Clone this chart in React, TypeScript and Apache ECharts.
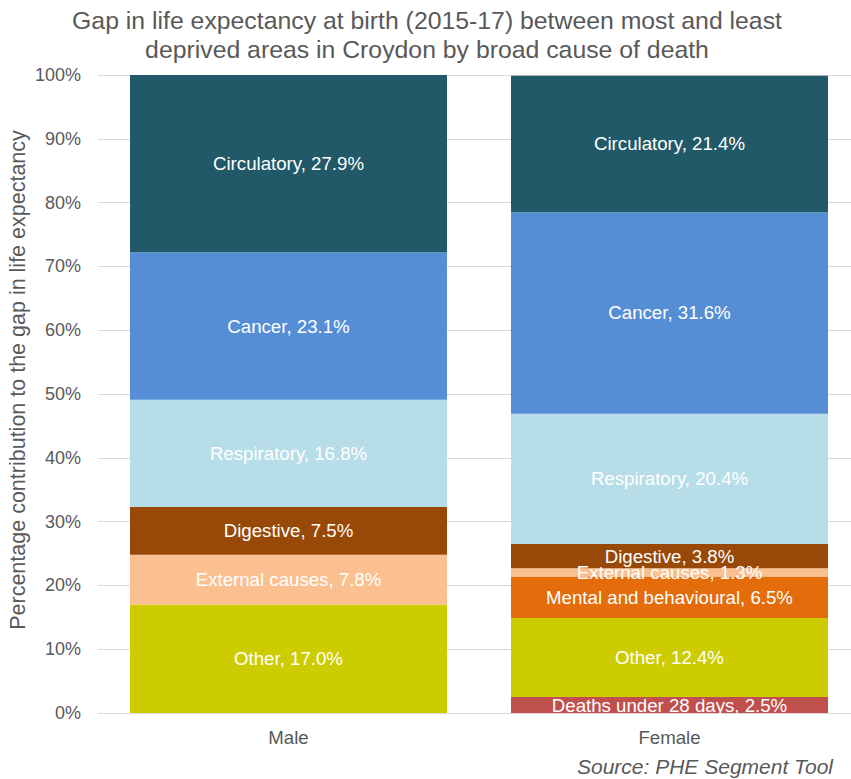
import React, { useEffect, useRef } from "react";
import * as echarts from "echarts";

const categories = ["Male", "Female"];
const seriesNames = [
  "Deaths under 28 days",
  "Other",
  "Mental and behavioural",
  "External causes",
  "Digestive",
  "Respiratory",
  "Cancer",
  "Circulatory",
];
const deathsUnder28 = [null, 2.5];
const other = [17.0, 12.4];
const mental = [null, 6.5];
const external = [7.8, 1.3];
const digestive = [7.5, 3.8];
const respiratory = [16.8, 20.4];
const cancer = [23.1, 31.6];
const circulatory = [27.9, 21.4];
const seriesValues = [deathsUnder28, other, mental, external, digestive, respiratory, cancer, circulatory];
const colors = ["#c0504d", "#cccc00", "#e46c0a", "#fac090", "#984807", "#b7dde8", "#558ed5", "#215968"];

const FONT = "Liberation Sans, Arial, sans-serif";

export default function App() {
  const ref = useRef<HTMLDivElement>(null);
  useEffect(() => {
    const chart = echarts.init(ref.current!, null, { renderer: "svg" });
    chart.setOption({
      animation: false,
      textStyle: { fontFamily: FONT },
      graphic: [
        {
          type: "text",
          x: 427,
          y: 6,
          style: {
            text: "Gap in life expectancy at birth (2015-17) between most and least\ndeprived areas in Croydon by broad cause of death",
            font: "24.8px Liberation Sans, Arial, sans-serif",
            fill: "#595959",
            textAlign: "center",
            lineHeight: 29,
          },
        },
        {
          type: "text",
          x: 18,
          y: 380,
          rotation: Math.PI / 2,
          style: {
            text: "Percentage contribution to the gap in life expectancy",
            font: "21.5px Liberation Sans, Arial, sans-serif",
            fill: "#595959",
            textAlign: "center",
            textVerticalAlign: "middle",
          },
        },
        {
          type: "text",
          right: 18,
          top: 756,
          style: { text: "Source: PHE Segment Tool", font: "italic 21px Liberation Sans, Arial, sans-serif", fill: "#595959" },
        },
      ],
      grid: { left: 98, top: 75, width: 762, height: 638, outerBoundsMode: "none" },
      xAxis: {
        type: "category",
        data: categories,
        axisLine: { lineStyle: { color: "#d9d9d9" } },
        axisTick: { show: false },
        axisLabel: { color: "#595959", fontSize: 18.67, margin: 15 },
      },
      yAxis: {
        type: "value",
        min: 0,
        max: 100,
        interval: 10,
        axisLabel: { color: "#595959", fontSize: 18, formatter: "{value}%", margin: 17 },
        splitLine: { lineStyle: { color: "#d9d9d9" } },
      },
      series: seriesNames.map((name, i) => ({
        name,
        type: "bar",
        stack: "total",
        barWidth: 317,
        data: seriesValues[i],
        itemStyle: { color: colors[i] },
        label: {
          show: true,
          position: "inside",
          color: "#ffffff",
          fontSize: 18.67,
          formatter: (p: any) => `${p.seriesName}, ${Number(p.value).toFixed(1)}%`,
        },
      })),
    });
    return () => chart.dispose();
  }, []);
  return <div ref={ref} style={{ position: "absolute", left: 0, top: 0, width: 851, height: 779 }} />;
}
